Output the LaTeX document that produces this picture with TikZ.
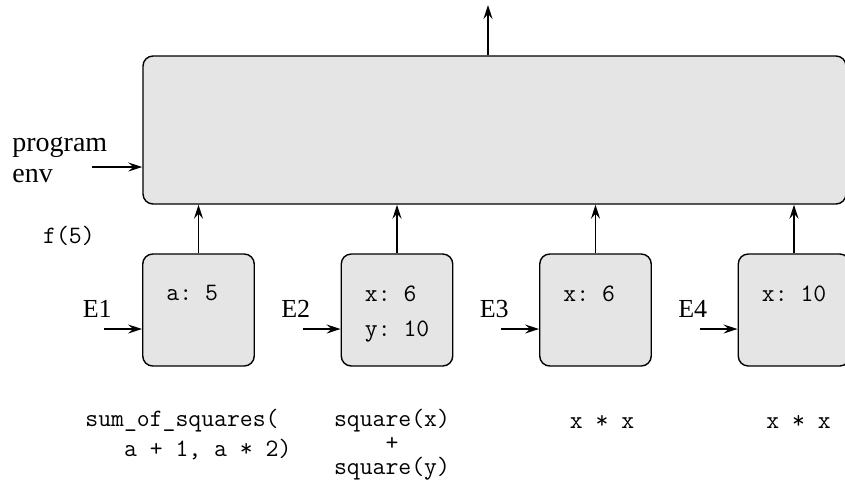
\documentclass[tikz,border=0pt]{standalone}
\usepackage{fontspec}
\setmainfont{Liberation Serif}
\usetikzlibrary{arrows.meta,positioning}

\tikzstyle{global} = [draw, fill=black!10, line width=0.7pt, rounded corners=5pt, minimum width=351.5pt, minimum height=74pt]
\tikzstyle{frame} = [draw, fill=black!10, line width=0.7pt, rounded corners=5pt, minimum width=55.75pt, minimum height=56pt, inner sep=0pt]
\tikzstyle{code} = [font=\fontsize{12.5}{17.5}\selectfont\ttfamily\frenchspacing, inner sep=0pt]
\tikzstyle{envname} = [font=\fontsize{13}{15}\selectfont, inner sep=0pt]
\tikzstyle{arr} = [-{Stealth[length=7pt, width=4.5pt, inset=2.5pt]}, line width=0.9pt]

\begin{document}
\begin{tikzpicture}[x=0.5pt, y=-0.5pt]
\useasboundingbox (0,0) rectangle (845,484);

% global frame
\node[global] (genv) at (494.5,130) {};
\node[envname, font=\fontsize{14}{15.5}\selectfont, align=left, anchor=north west] (prog) at (12,137) {program\\env};
\coordinate (penv) at (92,167);
\draw[arr] (penv) -- (penv -| genv.west);
\coordinate (ret) at (488,5);
\draw[arr] (ret |- genv.north) -- (ret);

\node[code, anchor=center] (call) at (69,236) {f(5)};

% local frames
\node[frame] (e1) at (198.5,310) {};
\node[frame] (e2) at (397,310) {};
\node[frame] (e3) at (595.5,310) {};
\node[frame] (e4) at (794,310) {};

\node[code, anchor=north west] (b1) at ([xshift=12pt, yshift=-16pt]e1.north west) {a: 5};
\node[code, align=left, anchor=north west] (b2) at ([xshift=12pt, yshift=-16pt]e2.north west) {x: 6\\y: 10};
\node[code, anchor=north west] (b3) at ([xshift=12pt, yshift=-16pt]e3.north west) {x: 6};
\node[code, anchor=north west] (b4) at ([xshift=12pt, yshift=-16pt]e4.north west) {x: 10};

\foreach \f/\n in {e1/E1, e2/E2, e3/E3, e4/E4}{
  \node[envname, anchor=base east] (l\f) at ([xshift=-15pt, yshift=-3.5pt]\f.west) {\n};
  \coordinate (in\f) at ([xshift=-19pt, yshift=-9.5pt]\f.west);
  \draw[arr] (in\f) -- (in\f -| \f.west);
  \draw[arr] (\f.north) -- (\f.north |- genv.south);
}

% expressions
\node[code, font=\fontsize{12.5}{15}\selectfont\ttfamily\frenchspacing, align=left, anchor=north west] (x1) at (85,409) {sum\_of\_squares(\\\ \ \ a + 1, a * 2)};
\node[code, font=\fontsize{12.5}{12}\selectfont\ttfamily, align=center, anchor=north] (x2) at (392,409) {square(x)\\+\\square(y)};
\node[code, anchor=base] (x3) at (602,428) {x * x};
\node[code, anchor=base] (x4) at (798.5,428) {x * x};
\end{tikzpicture}
\end{document}
